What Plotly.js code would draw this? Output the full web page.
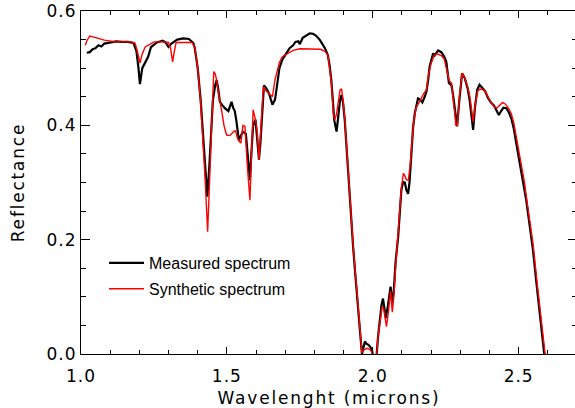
<!DOCTYPE html>
<html>
<head>
<meta charset="utf-8">
<script src="https://cdn.plot.ly/plotly-3.0.1.min.js"></script>
<style>
html,body{margin:0;padding:0;overflow:hidden;background:#fff;}
#chart{width:577px;height:408px;}
#chart text.xtitle, #chart text.ytitle{letter-spacing:1.8px;}
#chart .xtick text, #chart .ytick text{letter-spacing:1px;}
</style>
</head>
<body>
<div id="chart"></div>
<script>
// Measured spectrum (black)
var measuredX = [1.02,1.03,1.04,1.05,1.06,1.07,1.08,1.10,1.12,1.14,1.16,1.18,1.19,1.197,1.202,1.21,1.22,1.23,1.24,1.26,1.28,1.29,1.30,1.31,1.33,1.35,1.37,1.385,1.39,1.40,1.41,1.418,1.425,1.43,1.433,1.44,1.447,1.452,1.46,1.465,1.47,1.476,1.485,1.493,1.505,1.512,1.516,1.522,1.527,1.532,1.541,1.548,1.555,1.565,1.572,1.579,1.585,1.59,1.598,1.604,1.61,1.615,1.622,1.627,1.635,1.645,1.656,1.665,1.672,1.68,1.69,1.705,1.715,1.727,1.735,1.745,1.75,1.76,1.775,1.784,1.795,1.805,1.818,1.83,1.836,1.846,1.852,1.858,1.863,1.868,1.876,1.882,1.888,1.893,1.898,1.904,1.91,1.915,1.921,1.927,1.933,1.94,1.95,1.957,1.963,1.968,1.973,1.978,1.985,1.992,1.998,2.003,2.012,2.018,2.024,2.03,2.035,2.04,2.045,2.052,2.061,2.067,2.072,2.078,2.087,2.093,2.098,2.104,2.11,2.115,2.121,2.126,2.132,2.138,2.144,2.155,2.162,2.17,2.178,2.184,2.19,2.195,2.207,2.212,2.224,2.235,2.245,2.252,2.261,2.27,2.276,2.281,2.289,2.296,2.302,2.306,2.315,2.325,2.332,2.338,2.344,2.35,2.358,2.366,2.375,2.385,2.395,2.405,2.415,2.425,2.432,2.44,2.448,2.458,2.467,2.475,2.483,2.492,2.50,2.509,2.518,2.526,2.535,2.549,2.56,2.572,2.587,2.592];
var measuredY = [0.527,0.528,0.533,0.535,0.540,0.538,0.543,0.545,0.547,0.546,0.546,0.544,0.530,0.500,0.472,0.500,0.509,0.520,0.537,0.545,0.548,0.545,0.537,0.543,0.550,0.552,0.551,0.544,0.535,0.500,0.445,0.386,0.330,0.287,0.275,0.330,0.400,0.444,0.470,0.479,0.465,0.441,0.435,0.430,0.425,0.437,0.441,0.430,0.425,0.410,0.374,0.382,0.389,0.385,0.350,0.304,0.360,0.400,0.410,0.380,0.340,0.370,0.440,0.470,0.465,0.455,0.436,0.445,0.470,0.500,0.515,0.526,0.535,0.540,0.546,0.547,0.542,0.553,0.558,0.561,0.560,0.557,0.550,0.540,0.535,0.523,0.505,0.479,0.440,0.409,0.389,0.420,0.445,0.453,0.440,0.409,0.360,0.316,0.265,0.222,0.185,0.140,0.071,0.035,0.000,0.012,0.022,0.018,0.016,0.012,0.005,-0.010,-0.010,0.030,0.060,0.086,0.097,0.080,0.063,0.085,0.118,0.089,0.110,0.160,0.205,0.250,0.287,0.301,0.300,0.287,0.280,0.300,0.357,0.395,0.421,0.447,0.445,0.440,0.450,0.459,0.480,0.503,0.526,0.522,0.531,0.528,0.520,0.511,0.474,0.470,0.450,0.427,0.398,0.440,0.480,0.491,0.483,0.465,0.444,0.420,0.392,0.430,0.462,0.471,0.466,0.460,0.448,0.440,0.435,0.425,0.418,0.425,0.431,0.430,0.422,0.412,0.395,0.368,0.345,0.322,0.295,0.269,0.235,0.182,0.129,0.070,0.000,-0.020];

// Synthetic spectrum (red)
var syntheticX = [1.015,1.02,1.03,1.04,1.06,1.08,1.10,1.12,1.14,1.17,1.185,1.193,1.202,1.21,1.22,1.23,1.25,1.28,1.30,1.307,1.314,1.32,1.326,1.35,1.38,1.39,1.40,1.41,1.418,1.425,1.434,1.44,1.447,1.455,1.46,1.465,1.47,1.476,1.484,1.49,1.499,1.51,1.517,1.525,1.53,1.536,1.542,1.548,1.555,1.562,1.57,1.579,1.585,1.59,1.598,1.604,1.61,1.617,1.625,1.635,1.645,1.656,1.665,1.68,1.69,1.705,1.727,1.75,1.773,1.80,1.82,1.835,1.846,1.852,1.858,1.865,1.87,1.876,1.882,1.888,1.893,1.898,1.904,1.91,1.915,1.921,1.927,1.933,1.94,1.95,1.957,1.963,1.97,1.98,1.99,1.998,2.005,2.012,2.018,2.025,2.032,2.037,2.043,2.047,2.055,2.061,2.067,2.072,2.08,2.087,2.093,2.098,2.105,2.11,2.115,2.122,2.128,2.134,2.14,2.148,2.158,2.167,2.175,2.184,2.19,2.198,2.21,2.22,2.235,2.245,2.255,2.262,2.27,2.277,2.285,2.29,2.297,2.306,2.315,2.325,2.333,2.338,2.344,2.352,2.36,2.366,2.375,2.385,2.395,2.405,2.415,2.425,2.435,2.445,2.455,2.465,2.475,2.483,2.492,2.50,2.51,2.52,2.53,2.55,2.562,2.575,2.59,2.595];
var syntheticY = [0.540,0.548,0.556,0.555,0.552,0.549,0.547,0.546,0.546,0.546,0.544,0.530,0.509,0.525,0.537,0.540,0.546,0.546,0.545,0.535,0.511,0.530,0.545,0.545,0.545,0.537,0.500,0.440,0.375,0.310,0.214,0.300,0.400,0.494,0.490,0.479,0.460,0.445,0.420,0.400,0.383,0.382,0.386,0.390,0.390,0.378,0.372,0.369,0.400,0.398,0.330,0.269,0.360,0.427,0.410,0.390,0.340,0.400,0.467,0.460,0.455,0.450,0.480,0.510,0.520,0.525,0.531,0.534,0.534,0.534,0.533,0.530,0.523,0.500,0.475,0.420,0.410,0.420,0.445,0.462,0.464,0.445,0.412,0.365,0.320,0.270,0.225,0.188,0.145,0.075,0.038,0.002,0.007,0.010,0.008,0.002,-0.010,-0.010,0.030,0.060,0.082,0.080,0.055,0.048,0.080,0.110,0.073,0.100,0.165,0.210,0.255,0.290,0.316,0.312,0.305,0.304,0.330,0.370,0.405,0.430,0.440,0.450,0.456,0.462,0.485,0.505,0.522,0.525,0.522,0.516,0.490,0.478,0.474,0.440,0.400,0.400,0.450,0.491,0.483,0.468,0.450,0.430,0.406,0.440,0.460,0.463,0.463,0.460,0.450,0.440,0.433,0.430,0.435,0.440,0.437,0.430,0.420,0.405,0.380,0.358,0.330,0.300,0.262,0.190,0.130,0.065,0.000,-0.020];

var seriesNames = ['Measured spectrum', 'Synthetic spectrum'];

var axFont = 'DejaVu Sans, Verdana, sans-serif';
var legFont = 'Liberation Sans, Arial, sans-serif';

var traces = [
  {x: measuredX, y: measuredY, type: 'scatter', mode: 'lines', name: seriesNames[0],
   legendgroup: 'a', line: {color: '#000000', width: 2.2}},
  {x: syntheticX, y: syntheticY, type: 'scatter', mode: 'lines', name: seriesNames[1],
   legendgroup: 'b', line: {color: '#ff0000', width: 1.4}}
];

var axisCommon = {
  showline: true, linecolor: '#000', linewidth: 1, mirror: 'ticks',
  ticks: 'inside', tickcolor: '#000', tickwidth: 1,
  showgrid: false, zeroline: false,
  tickfont: {family: axFont, size: 17, color: '#000'}
};

var layout = {
  width: 577, height: 408,
  margin: {l: 81, r: 0, t: 11, b: 54},
  paper_bgcolor: '#fff', plot_bgcolor: '#fff',
  showlegend: true,
  legend: {x: (104 - 81) / 496, y: (354 - 246) / 343, xanchor: 'left', yanchor: 'top',
           bgcolor: 'rgba(0,0,0,0)', tracegroupgap: 2, itemwidth: 35,
           font: {family: legFont, size: 16, color: '#000'}},
  xaxis: Object.assign({}, axisCommon, {
    range: [1.0, 2.7], tick0: 1.0, dtick: 0.5, tickformat: '.1f', ticklen: 7,
    ticklabelstandoff: 7,
    minor: {dtick: 0.1, ticklen: 4, ticks: 'inside', tickcolor: '#000', tickwidth: 1, showgrid: false},
    title: {text: 'Wavelenght (microns)', font: {family: axFont, size: 17, color: '#000'}, standoff: 6}
  }),
  yaxis: Object.assign({}, axisCommon, {
    range: [0, 0.6], tick0: 0, dtick: 0.2, tickformat: '.1f', ticklen: 9,
    minor: {dtick: 0.05, ticklen: 5, ticks: 'inside', tickcolor: '#000', tickwidth: 1, showgrid: false},
    title: {text: 'Reflectance', font: {family: axFont, size: 17, color: '#000'}, standoff: 20}
  })
};

Plotly.newPlot('chart', traces, layout, {displayModeBar: false, staticPlot: true});
</script>
</body>
</html>
